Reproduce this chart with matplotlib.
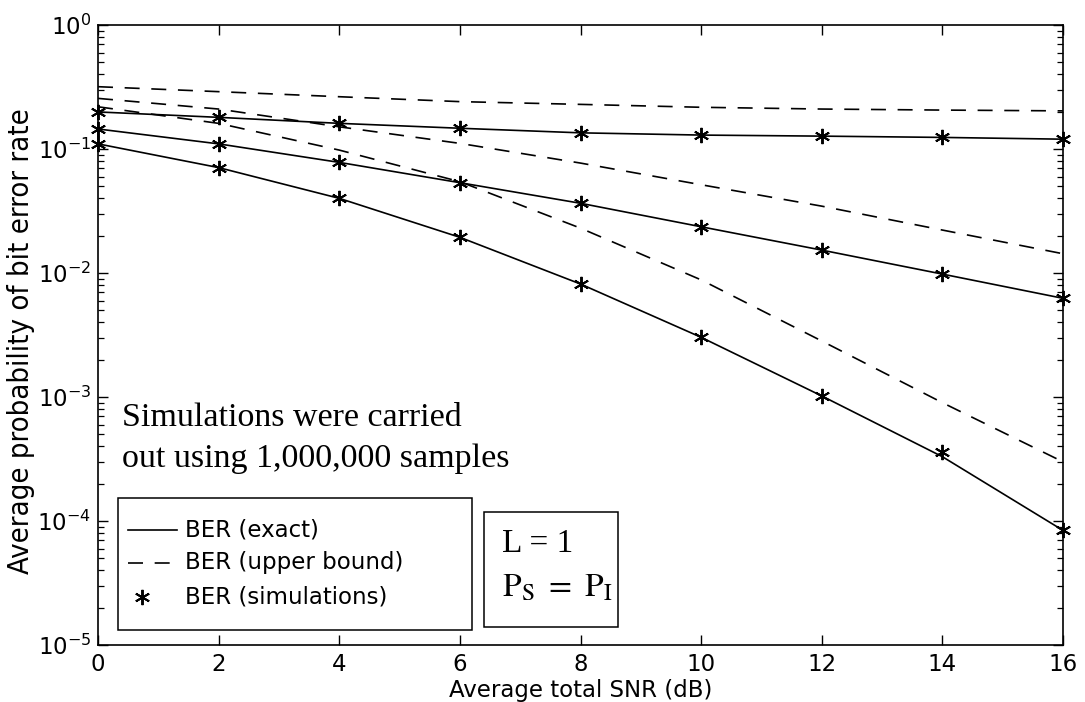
import matplotlib
matplotlib.use("Agg")
import matplotlib.pyplot as plt
from matplotlib.patches import Rectangle
from matplotlib.lines import Line2D
from matplotlib.ticker import LogLocator, FixedLocator, NullFormatter

# ---------------- data ----------------
snr_db = [0, 2, 4, 6, 8, 10, 12, 14, 16]

exact_a = [0.199, 0.180, 0.161, 0.147, 0.135, 0.1295, 0.127, 0.124, 0.120]
exact_b = [0.145, 0.110, 0.078, 0.0535, 0.0365, 0.0236, 0.0153, 0.0098, 0.00625]
exact_c = [0.110, 0.0708, 0.040, 0.0194, 0.00815, 0.00303, 0.00102, 0.00033, 8.4e-5]

bound_a = [0.318, 0.290, 0.264, 0.241, 0.229, 0.217, 0.210, 0.206, 0.203]
bound_b = [0.256, 0.210, 0.151, 0.111, 0.077, 0.0515, 0.0346, 0.0222, 0.0143]
bound_c = [0.219, 0.161, 0.098, 0.0545, 0.023, 0.0088, 0.00283, 0.0009, 0.0003]

sim_a = [0.199, 0.180, 0.161, 0.147, 0.135, 0.1295, 0.127, 0.124, 0.120]
sim_b = [0.145, 0.110, 0.078, 0.0535, 0.0365, 0.0236, 0.0153, 0.0098, 0.00625]
sim_c = [0.110, 0.0708, 0.040, 0.0194, 0.00815, 0.00303, 0.00102, 0.00036, 8.4e-5]

x_ticks = [0, 2, 4, 6, 8, 10, 12, 14, 16]
legend_labels = ["BER (exact)", "BER (upper bound)", "BER (simulations)"]
note_lines = ["Simulations were carried", "out using 1,000,000 samples"]
param_lines = ["L = 1", r"$\mathrm{P_S\ =\ P_I}$"]
x_label = "Average total SNR (dB)"
y_label = "Average probability of bit error rate"

# ---------------- figure ----------------
W, H = 1085, 702
fig = plt.figure(figsize=(W / 100, H / 100), dpi=100)
L_px, R_px, T_px, B_px = 98, 1063, 25, 645
ax = fig.add_axes([L_px / W, 1 - B_px / H, (R_px - L_px) / W, (B_px - T_px) / H])

sans = "DejaVu Sans"
serif = "Liberation Serif"

lw = 1.2
ms_kw = dict(marker=(6, 2, 0), markersize=11, markeredgewidth=1.4,
             color="black", linestyle="none", clip_on=False, zorder=4)

for ex in (exact_a, exact_b, exact_c):
    ax.plot(snr_db, ex, color="black", lw=lw, solid_capstyle="butt")
for bd in (bound_a, bound_b, bound_c):
    ax.plot(snr_db, bd, color="black", lw=lw, linestyle=(0, (9, 7)))
for sm in (sim_a, sim_b, sim_c):
    ax.plot(snr_db, sm, **ms_kw)

ax.set_yscale("log")
ax.set_xlim(0, 16)
ax.set_ylim(1e-5, 1)
ax.xaxis.set_major_locator(FixedLocator(x_ticks))
ax.yaxis.set_major_locator(LogLocator(base=10, numticks=10))
ax.yaxis.set_minor_locator(LogLocator(base=10, subs=range(2, 10), numticks=20))
ax.yaxis.set_minor_formatter(NullFormatter())

ax.tick_params(axis="both", which="both", direction="in", top=True, right=True,
               color="black")
ax.tick_params(axis="both", which="major", length=7, width=1.0, labelsize=16.5, pad=6)
ax.tick_params(axis="y", which="major", pad=5)
ax.tick_params(axis="y", which="minor", length=4, width=0.9)
ax.tick_params(axis="x", which="minor", length=0)
for lab in ax.get_xticklabels() + ax.get_yticklabels():
    lab.set_family(sans)
for sp in ax.spines.values():
    sp.set_linewidth(1.2)

ax.set_xlabel(x_label, fontsize=16.5, family=sans, labelpad=2)
ax.set_ylabel(y_label, fontsize=21, family=sans, fontstretch="condensed")
ax.yaxis.set_label_coords((35 - L_px) / (R_px - L_px), 0.49)


def ax_xy(px, py):
    return ((px - L_px) / (R_px - L_px), (B_px - py) / (B_px - T_px))


# annotation text
for i, line in enumerate(note_lines):
    x0, y0 = ax_xy(122, 426.5 + 40.5 * i)
    ax.text(x0, y0, line, transform=ax.transAxes, fontsize=24.5, family=serif,
            ha="left", va="baseline")

# legend box (drawn manually to match the original placement)
bx0, by0 = ax_xy(117.7, 630)
bx1, by1 = ax_xy(471.7, 498)
ax.add_patch(Rectangle((bx0, by0), bx1 - bx0, by1 - by0, transform=ax.transAxes,
                       fill=True, facecolor="white", edgecolor="black", lw=1.1,
                       zorder=5))
rows_y = [530, 563, 597]
hx0, _ = ax_xy(128, 0)
hx1, _ = ax_xy(177, 0)
tx, _ = ax_xy(185, 0)
mx, _ = ax_xy(142, 0)
_, ry0 = ax_xy(0, rows_y[0])
_, ry1 = ax_xy(0, rows_y[1])
_, ry2 = ax_xy(0, rows_y[2])
ax.add_line(Line2D([hx0, hx1], [ry0, ry0], transform=ax.transAxes, color="black",
                   lw=lw, zorder=6))
ax.add_line(Line2D([hx0, hx1], [ry1, ry1], transform=ax.transAxes, color="black",
                   lw=lw, linestyle=(0, (9, 7)), zorder=6))
ax.add_line(Line2D([mx], [ry2], transform=ax.transAxes, color="black",
                   marker=(6, 2, 0), markersize=11, markeredgewidth=1.4,
                   linestyle="none", zorder=6))
for lbl, ry in zip(legend_labels, (ry0, ry1, ry2)):
    ax.text(tx, ry, lbl, transform=ax.transAxes, fontsize=16.5, family=sans,
            ha="left", va="center", zorder=7)

# parameter box
px0, py0 = ax_xy(484, 626.7)
px1, py1 = ax_xy(618.3, 511.7)
ax.add_patch(Rectangle((px0, py0), px1 - px0, py1 - py0, transform=ax.transAxes,
                       fill=True, facecolor="white", edgecolor="black", lw=1.1,
                       zorder=5))
lx, ly = ax_xy(501.7, 551.7)
ax.text(lx, ly, param_lines[0], transform=ax.transAxes, fontsize=24, family=serif,
        ha="left", va="baseline", zorder=7)
lx2, ly2 = ax_xy(501.7, 596.7)
ax.text(lx2, ly2, param_lines[1], transform=ax.transAxes, fontsize=24, family=serif,
        math_fontfamily="stix", ha="left", va="baseline", zorder=7)

fig.savefig("out.png", dpi=100, facecolor="white")
